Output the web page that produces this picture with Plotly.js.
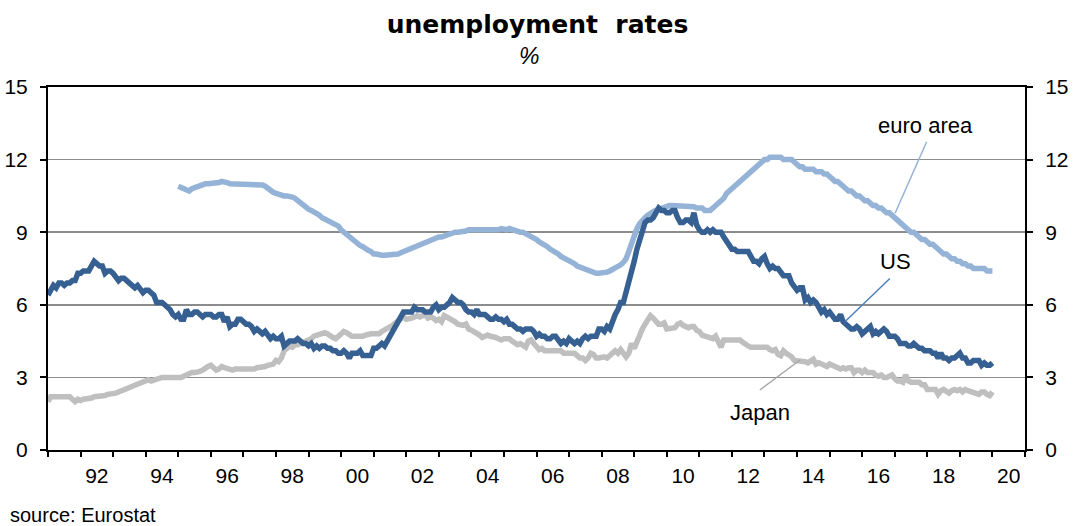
<!DOCTYPE html>
<html>
<head>
<meta charset="utf-8">
<script src="https://cdn.plot.ly/plotly-3.0.1.min.js"></script>
<style>
html,body{margin:0;padding:0;background:#fff;}
#chart{width:1075px;height:526px;}
</style>
</head>
<body>
<div id="chart"></div>
<script>
// ---- data: monthly unemployment rates, % ----
var usStart = 1991;      // first month: Jan 1991
var japanStart = 1991;   // first month: Jan 1991
var euroStart = 1995;    // first month: Jan 1995

var usRates = [
 6.4,6.6,6.8,6.7,6.9,6.9,6.8,6.9,6.9,7.0,7.0,7.3,
 7.3,7.4,7.4,7.4,7.6,7.8,7.7,7.6,7.6,7.3,7.4,7.4,
 7.3,7.1,7.0,7.1,7.1,7.0,6.9,6.8,6.7,6.8,6.6,6.5,
 6.6,6.6,6.5,6.4,6.1,6.1,6.1,6.0,5.9,5.8,5.6,5.5,
 5.6,5.4,5.4,5.8,5.6,5.6,5.7,5.7,5.6,5.5,5.6,5.6,
 5.6,5.5,5.5,5.6,5.6,5.3,5.5,5.1,5.2,5.2,5.4,5.4,
 5.3,5.2,5.2,5.1,4.9,5.0,4.9,4.8,4.9,4.7,4.6,4.7,
 4.6,4.6,4.7,4.3,4.4,4.5,4.5,4.5,4.6,4.5,4.4,4.4,
 4.3,4.4,4.2,4.3,4.2,4.3,4.3,4.2,4.2,4.1,4.1,4.0,
 4.0,4.1,4.0,3.8,4.0,4.0,4.0,4.1,3.9,3.9,3.9,3.9,
 4.2,4.2,4.3,4.4,4.3,4.5,4.6,4.9,5.0,5.3,5.5,5.7,
 5.7,5.7,5.7,5.9,5.8,5.8,5.8,5.7,5.7,5.7,5.9,6.0,
 5.8,5.9,5.9,6.0,6.1,6.3,6.2,6.1,6.1,6.0,5.8,5.7,
 5.7,5.6,5.8,5.6,5.6,5.6,5.5,5.4,5.4,5.5,5.4,5.4,
 5.3,5.4,5.2,5.2,5.1,5.0,5.0,4.9,5.0,5.0,5.0,4.9,
 4.7,4.8,4.7,4.7,4.6,4.6,4.7,4.7,4.5,4.4,4.5,4.4,
 4.6,4.5,4.4,4.5,4.4,4.6,4.7,4.6,4.7,4.7,4.7,5.0,
 5.0,4.9,5.1,5.0,5.4,5.6,5.8,6.1,6.1,6.5,6.8,7.3,
 7.8,8.3,8.7,9.0,9.4,9.5,9.5,9.6,9.8,10.0,9.9,9.9,
 9.8,9.8,9.9,9.9,9.6,9.4,9.4,9.5,9.5,9.4,9.8,9.3,
 9.1,9.0,9.0,9.1,9.0,9.1,9.0,9.0,9.0,8.8,8.6,8.5,
 8.3,8.3,8.2,8.2,8.2,8.2,8.2,8.0,7.8,7.8,7.7,7.9,
 8.0,7.7,7.5,7.6,7.5,7.5,7.3,7.2,7.2,7.2,6.9,6.7,
 6.6,6.7,6.7,6.2,6.3,6.1,6.2,6.1,5.9,5.7,5.8,5.6,
 5.7,5.5,5.4,5.4,5.6,5.3,5.2,5.1,5.0,5.0,5.1,5.0,
 4.8,4.9,5.0,5.1,4.8,4.9,4.8,4.9,5.0,4.9,4.7,4.7,
 4.7,4.6,4.4,4.4,4.4,4.3,4.3,4.4,4.3,4.2,4.2,4.1,
 4.1,4.1,4.0,4.0,3.8,4.0,3.8,3.8,3.7,3.8,3.8,3.9,
 4.0,3.8,3.8,3.6,3.6,3.7,3.7,3.7,3.5,3.6,3.5,3.5,
 3.6
];

var japanRates = [
 2.0,2.2,2.2,2.2,2.2,2.2,2.2,2.2,2.2,2.1,2.0,2.1,
 2.05,2.1,2.1,2.1,2.15,2.2,2.2,2.2,2.2,2.25,2.3,2.3,
 2.35,2.35,2.4,2.45,2.5,2.55,2.55,2.6,2.7,2.75,2.8,2.85,
 2.9,2.9,2.85,2.9,2.9,2.95,3.0,3.0,3.0,3.0,3.0,2.95,
 2.95,3.0,3.05,3.1,3.2,3.2,3.2,3.2,3.25,3.3,3.4,3.45,
 3.5,3.4,3.3,3.35,3.45,3.4,3.35,3.35,3.3,3.35,3.35,3.35,
 3.35,3.35,3.3,3.3,3.35,3.4,3.4,3.4,3.45,3.5,3.5,3.55,
 3.7,3.65,3.8,4.1,4.2,4.3,4.25,4.35,4.35,4.4,4.45,4.45,
 4.55,4.6,4.7,4.75,4.75,4.8,4.85,4.8,4.7,4.65,4.6,4.7,
 4.85,4.9,4.85,4.75,4.7,4.7,4.7,4.65,4.7,4.75,4.8,4.8,
 4.8,4.8,4.8,4.9,4.95,5.0,5.05,5.15,5.25,5.35,5.45,5.5,
 5.4,5.4,5.45,5.5,5.55,5.5,5.55,5.6,5.45,5.5,5.45,5.35,
 5.4,5.3,5.55,5.5,5.45,5.35,5.3,5.2,5.15,5.15,5.2,5.0,
 4.95,4.9,4.8,4.75,4.65,4.7,4.75,4.7,4.7,4.65,4.6,4.55,
 4.6,4.6,4.6,4.5,4.45,4.35,4.4,4.3,4.25,4.5,4.55,4.4,
 4.3,4.15,4.2,4.1,4.1,4.1,4.1,4.1,4.15,4.1,4.0,4.0,
 4.0,4.0,4.0,3.9,3.8,3.8,3.7,3.8,4.0,3.95,3.8,3.8,
 3.85,3.85,3.8,3.9,4.0,4.1,4.0,4.15,4.0,3.85,4.0,4.4,
 4.2,4.5,4.8,5.0,5.2,5.4,5.55,5.45,5.35,5.2,5.2,5.25,
 5.0,5.0,5.05,5.05,5.2,5.25,5.15,5.1,5.05,5.1,5.1,4.95,
 4.9,4.75,4.7,4.7,4.65,4.6,4.7,4.4,4.25,4.55,4.55,4.55,
 4.6,4.6,4.6,4.55,4.45,4.35,4.3,4.25,4.25,4.25,4.2,4.25,
 4.25,4.25,4.15,4.1,4.15,3.95,3.9,4.1,4.0,3.95,3.85,3.7,
 3.7,3.65,3.65,3.65,3.6,3.7,3.75,3.55,3.6,3.55,3.5,3.45,
 3.55,3.5,3.4,3.35,3.35,3.4,3.35,3.4,3.4,3.2,3.3,3.3,
 3.2,3.3,3.2,3.2,3.2,3.1,3.05,3.1,3.0,3.0,3.05,3.1,
 2.95,2.85,2.85,2.8,3.1,2.85,2.8,2.8,2.8,2.8,2.7,2.7,
 2.5,2.5,2.5,2.5,2.3,2.45,2.5,2.45,2.35,2.45,2.5,2.45,
 2.5,2.4,2.5,2.45,2.4,2.35,2.35,2.3,2.4,2.4,2.3,2.25,
 2.4
];

var euroRates = [
 10.9,10.85,10.8,10.7,10.7,10.8,10.85,10.9,10.95,11.0,11.0,11.0,
 11.0,11.0,11.0,11.05,11.1,11.1,11.05,11.0,11.0,11.0,11.0,11.0,
 11.0,11.0,11.0,11.0,11.0,11.0,11.0,10.95,10.9,10.8,10.7,10.65,
 10.6,10.55,10.55,10.5,10.5,10.5,10.45,10.4,10.3,10.2,10.1,10.0,
 9.95,9.9,9.85,9.75,9.7,9.6,9.55,9.5,9.45,9.35,9.3,9.25,
 9.1,9.0,8.9,8.8,8.7,8.6,8.5,8.45,8.4,8.3,8.25,8.2,
 8.1,8.1,8.05,8.05,8.05,8.05,8.05,8.05,8.1,8.1,8.15,8.2,
 8.25,8.3,8.35,8.4,8.45,8.5,8.55,8.6,8.65,8.7,8.7,8.75,
 8.8,8.8,8.85,8.9,8.95,9.0,9.0,9.0,9.0,9.0,9.05,9.1,
 9.1,9.1,9.1,9.1,9.1,9.1,9.05,9.05,9.1,9.1,9.1,9.15,
 9.1,9.1,9.15,9.1,9.1,9.05,9.0,9.0,8.95,8.9,8.85,8.8,
 8.7,8.6,8.55,8.5,8.4,8.3,8.25,8.2,8.1,8.0,7.95,7.9,
 7.8,7.75,7.7,7.6,7.55,7.5,7.5,7.45,7.4,7.35,7.3,7.3,
 7.3,7.3,7.35,7.4,7.45,7.5,7.55,7.65,7.75,7.9,8.2,8.55,
 8.9,9.15,9.35,9.5,9.6,9.7,9.8,9.85,9.9,9.95,10.0,10.0,
 10.05,10.1,10.1,10.1,10.1,10.1,10.1,10.1,10.1,10.05,10.05,10.0,
 10.0,10.0,9.9,9.9,9.9,10.0,10.1,10.2,10.3,10.4,10.6,10.7,
 10.8,10.9,11.0,11.1,11.2,11.3,11.4,11.5,11.6,11.7,11.8,11.9,
 12.0,12.0,12.1,12.1,12.1,12.1,12.1,12.0,12.0,12.0,12.0,11.9,
 11.8,11.7,11.7,11.6,11.6,11.6,11.6,11.5,11.5,11.5,11.4,11.4,
 11.3,11.2,11.1,11.1,11.0,10.9,10.8,10.7,10.7,10.6,10.5,10.5,
 10.4,10.3,10.3,10.2,10.1,10.1,10.0,10.0,9.9,9.8,9.8,9.7,
 9.6,9.5,9.4,9.3,9.2,9.1,9.0,9.0,8.9,8.8,8.7,8.7,
 8.6,8.5,8.5,8.4,8.3,8.2,8.1,8.1,8.0,7.9,7.9,7.8,
 7.8,7.7,7.7,7.6,7.6,7.5,7.5,7.5,7.5,7.5,7.4,7.4,
 7.4
];

var tickYears = [1992,1994,1996,1998,2000,2002,2004,2006,2008,2010,2012,2014,2016,2018,2020];
var tickLabels = ['92','94','96','98','00','02','04','06','08','10','12','14','16','18','20'];
var yTicks = [0,3,6,9,12,15];

var seriesNames = ['euro area','US','Japan'];
var seriesColors = ['#95B3D7','#376092','#BFBFBF'];

// ---- helpers ----
function monthAxis(start, n){
  var xs = [];
  for (var i = 0; i < n; i++) xs.push(start + i/12);
  return xs;
}

var LW = 5.5;
var traces = [
  {x: monthAxis(euroStart, euroRates.length), y: euroRates, name: seriesNames[0],
   mode:'lines', line:{color:seriesColors[0], width:LW}, hoverinfo:'skip'},
  {x: monthAxis(japanStart, japanRates.length), y: japanRates, name: seriesNames[2],
   mode:'lines', line:{color:seriesColors[2], width:LW}, hoverinfo:'skip'},
  {x: monthAxis(usStart, usRates.length), y: usRates, name: seriesNames[1],
   mode:'lines', line:{color:seriesColors[1], width:LW}, hoverinfo:'skip'},
  {x: [], y: [], yaxis:'y2', showlegend:false, hoverinfo:'skip'}
];

var tickFont = {family:'Liberation Sans, Arial, sans-serif', size:21, color:'#000'};
var annFont = {family:'Liberation Sans, Arial, sans-serif', size:22, color:'#000'};

var layout = {
  width:1075, height:526,
  margin:{l:48, r:50, t:87, b:76, pad:0},
  paper_bgcolor:'#fff', plot_bgcolor:'#fff',
  showlegend:false,
  title:{
    text:'unemployment\u00a0 rates',
    font:{family:'DejaVu Sans, Verdana, sans-serif', size:25, color:'#000', weight:'bold'},
    x:0.5, xref:'container', xanchor:'center',
    y:1-24/526, yref:'container', yanchor:'middle'
  },
  xaxis:{
    range:[1991, 2021],
    tickmode:'array', tickvals:tickYears.map(function(y){return y+0.5;}), ticktext:tickLabels,
    ticks:'', showgrid:false, zeroline:false,
    showline:true, linecolor:'#000', linewidth:2, mirror:true,
    tickfont:tickFont, ticklabelstandoff:6,
    minor:{tickmode:'linear', tick0:1991, dtick:1, ticks:'outside', ticklen:5, tickwidth:2, tickcolor:'#000', showgrid:false},
    fixedrange:true
  },
  yaxis:{
    range:[0,15], tickmode:'array', tickvals:yTicks,
    ticks:'outside', ticklen:6, tickwidth:2, tickcolor:'#000',
    showgrid:true, gridcolor:'#8c8c8c', gridwidth:1.5,
    zeroline:false, showline:true, linecolor:'#000', linewidth:2,
    tickfont:tickFont, ticklabelstandoff:8, fixedrange:true
  },
  yaxis2:{
    range:[0,15], tickmode:'array', tickvals:yTicks, overlaying:'y', side:'right', anchor:'x',
    ticks:'outside', ticklen:6, tickwidth:2, tickcolor:'#000',
    showgrid:false, zeroline:false, showline:true, linecolor:'#000', linewidth:2,
    tickfont:tickFont, ticklabelstandoff:8, fixedrange:true
  },
  annotations:[
    {text:'%', xref:'paper', yref:'paper', x:(529-48)/977, y:(450-56)/363, xanchor:'center', yanchor:'middle',
     showarrow:false, font:{family:'Liberation Sans, Arial, sans-serif', size:23, color:'#000', style:'italic'}},
    {text:'euro area', xref:'x', yref:'y', x:2017.93, y:13.39, xanchor:'center', yanchor:'middle', showarrow:false, font:annFont},
    {text:'US', xref:'x', yref:'y', x:2017.01, y:7.77, xanchor:'center', yanchor:'middle', showarrow:false, font:annFont},
    {text:'Japan', xref:'x', yref:'y', x:2012.86, y:1.55, xanchor:'center', yanchor:'middle', showarrow:false, font:annFont},
    {text:'source: Eurostat', xref:'paper', yref:'paper', x:(9-48)/977, y:(450-515)/363, xanchor:'left', yanchor:'middle',
     showarrow:false, borderpad:0, font:{family:'Liberation Sans, Arial, sans-serif', size:20, color:'#000'}}
  ],
  shapes:[
    {type:'line', xref:'x', yref:'y', x0:2017.98, y0:12.74, x1:2017.01, y1:9.78, line:{color:'#95B3D7', width:1.5}},
    {type:'line', xref:'x', yref:'y', x0:2016.85, y0:7.09, x1:2015.47, y1:5.30, line:{color:'#4F81BD', width:1.5}},
    {type:'line', xref:'x', yref:'y', x0:2014.09, y0:3.72, x1:2012.86, y1:2.48, line:{color:'#A6A6A6', width:1.5}}
  ]
};

Plotly.newPlot('chart', traces, layout, {staticPlot:true, displayModeBar:false});
</script>
</body>
</html>
